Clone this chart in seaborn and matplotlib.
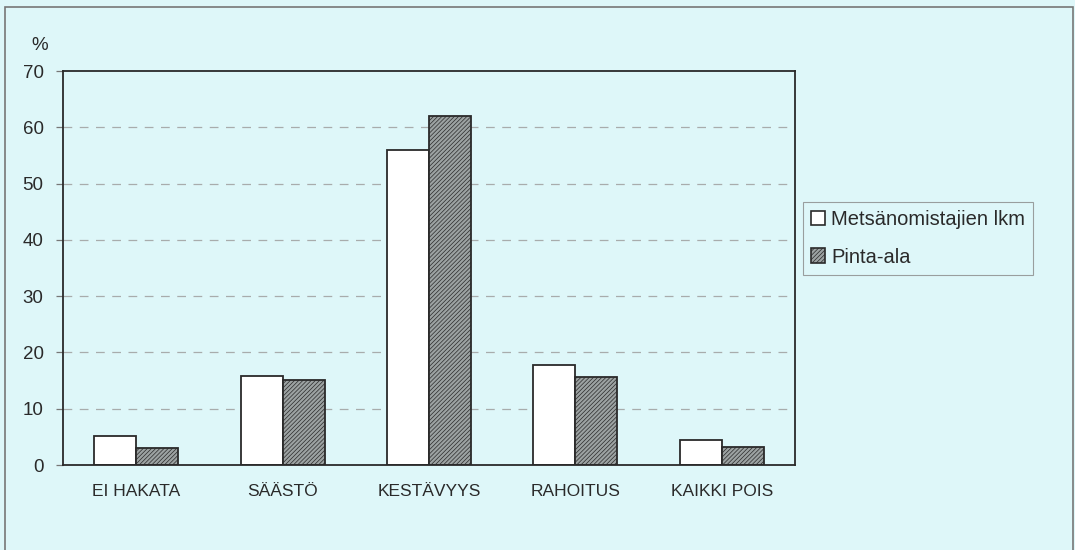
import pandas as pd
import matplotlib
matplotlib.use("Agg")
import matplotlib.pyplot as plt
import seaborn as sns
from matplotlib.patches import Rectangle, Patch

# --- data ---
categories = ["EI HAKATA", "SÄÄSTÖ", "KESTÄVYYS", "RAHOITUS", "KAIKKI POIS"]
series_names = ["Metsänomistajien lkm", "Pinta-ala"]
owners_pct = [5.1, 15.8, 56.0, 17.7, 4.4]
area_pct = [3.0, 15.1, 62.0, 15.6, 3.2]
y_ticks = [0, 10, 20, 30, 40, 50, 60, 70]

bg = "#def7f9"
ink = "#2a2a2a"
grey = "#9ca2a2"

sns.set_theme(style="white")
plt.rcParams["font.family"] = ["Liberation Sans", "DejaVu Sans"]
plt.rcParams["hatch.color"] = "#3a3a3a"
plt.rcParams["hatch.linewidth"] = 0.5

df = pd.DataFrame({
    "cat": categories * 2,
    "val": owners_pct + area_pct,
    "series": [series_names[0]] * 5 + [series_names[1]] * 5,
})

fig = plt.figure(figsize=(10.75, 5.5), dpi=100, facecolor=bg)
ax = fig.add_axes([0.0586, 0.1545, 0.681, 0.7164])
ax.set_facecolor(bg)

sns.barplot(data=df, x="cat", y="val", hue="series", ax=ax,
            palette=["white", grey], edgecolor=ink, linewidth=1.3,
            width=0.574, gap=0, saturation=1, legend=False)

# hatch the grey series
for bar in ax.containers[1]:
    bar.set_hatch("////////")

ax.set_xlim(-0.5, 4.5)
ax.set_ylim(0, 70)
ax.set_yticks(y_ticks)
ax.set_xlabel("")
ax.set_ylabel("")

# dashed grid
for y in y_ticks[1:-1]:
    ax.axhline(y, color="#a8acac", linestyle=(0, (7, 6)), linewidth=0.9, zorder=0)

for s in ax.spines.values():
    s.set_color(ink)
    s.set_linewidth(1.3)

ax.set_xticks([i - 0.5 for i in range(6)], minor=True)
ax.tick_params(axis="x", which="major", length=0, pad=14, labelsize=12.5, labelcolor=ink)
ax.tick_params(axis="x", which="minor", length=7, direction="inout", color=ink, width=0.9)
ax.tick_params(axis="y", which="major", length=5, direction="out", color="#777", width=0.9,
               left=True, labelsize=13.5, labelcolor=ink, pad=9)

fig.text(0.0372, 1 - 46 / 550, "%", fontsize=13.5, color=ink, ha="center", va="center")

# legend
handles = [
    Patch(facecolor="white", edgecolor=ink, linewidth=1.2),
    Patch(facecolor=grey, edgecolor=ink, linewidth=1.2, hatch="////////"),
]
leg = fig.legend(handles, series_names, loc="upper left",
                 bbox_to_anchor=(803 / 1075, 1 - 202 / 550),
                 fontsize=14.5, frameon=True, fancybox=False, borderaxespad=0,
                 handlelength=0.7, handleheight=0.7, handletextpad=0.3,
                 borderpad=0.4, labelspacing=0.92, labelcolor=ink)
leg.get_frame().set_facecolor(bg)
leg.get_frame().set_edgecolor("#888")
leg.get_frame().set_linewidth(0.8)

# outer frame
fig.patches.append(Rectangle((5 / 1075, -0.05), 1068 / 1075, 1.05 - 7 / 550,
                             transform=fig.transFigure, fill=False,
                             edgecolor="#777", linewidth=1.2))

fig.savefig("out.png", dpi=100, facecolor=bg)
